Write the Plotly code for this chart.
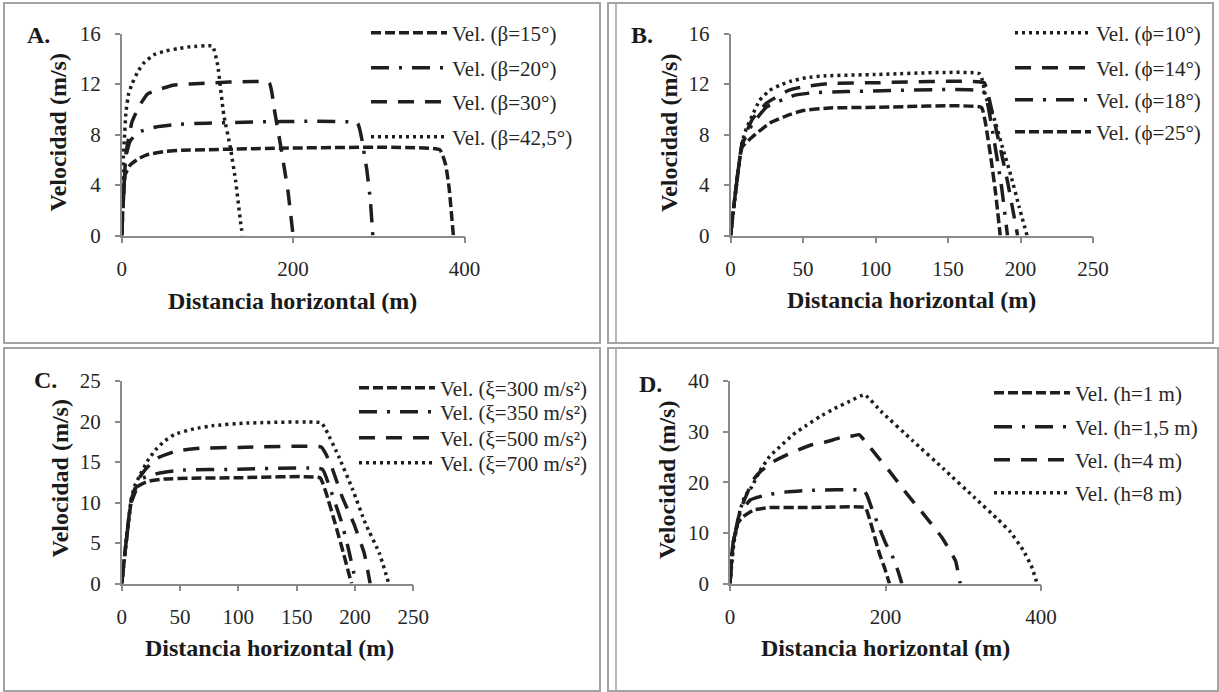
import plotly.graph_objects as go

W, H = 1219, 692

# ---------------- data ----------------
# Panel A : inclination beta
A_names = ["Vel. (β=15°)", "Vel. (β=20°)", "Vel. (β=30°)", "Vel. (β=42,5°)"]
A_x_b15 = [0, 4, 10, 20, 30, 50, 70, 100, 371, 378, 382, 387]
A_v_b15 = [0, 4.8, 5.6, 6.1, 6.4, 6.65, 6.75, 6.8, 6.8, 5.6, 3.8, 0]
A_x_b20 = [0, 5, 10, 20, 40, 65, 100, 275, 280, 286, 290, 293]
A_v_b20 = [0, 6.3, 7.5, 8.2, 8.6, 8.8, 8.9, 8.9, 7.7, 5.2, 2.9, 0]
A_x_b30 = [0, 5, 12, 20, 30, 45, 60, 80, 172, 178, 186, 194, 200]
A_v_b30 = [0, 6.5, 9.0, 10.2, 11.2, 11.6, 11.9, 12.0, 12.1, 10.0, 6.9, 3.5, 0]
A_x_b42 = [0, 2, 3, 5, 8, 12, 19, 25, 37, 50, 65, 80, 106, 112, 119, 127, 133, 139, 141]
A_v_b42 = [0, 6.3, 7.5, 9.8, 11.2, 12.0, 13.0, 13.6, 14.3, 14.6, 14.8, 14.95, 15.0, 13.5, 9.6, 6.9, 4.3, 0.9, 0]

# Panel B : friction angle phi
B_names = ["Vel. (ϕ=10°)", "Vel. (ϕ=14°)", "Vel. (ϕ=18°)", "Vel. (ϕ=25°)"]
B_x_p10 = [0, 8, 11, 15, 20, 27, 34, 41, 52, 66, 100, 172, 176, 182, 188, 193.5, 199, 204.5]
B_v_p10 = [0, 7.4, 8.5, 9.5, 10.7, 11.5, 11.9, 12.2, 12.5, 12.65, 12.75, 12.8, 11.0, 9.2, 6.8, 4.7, 2.3, 0]
B_x_p14 = [0, 8, 15, 25, 40, 51, 70, 100, 175, 178, 184, 191, 198]
B_v_p14 = [0, 7.3, 9.2, 10.5, 11.5, 11.8, 12.05, 12.1, 12.1, 11.0, 8.0, 4.3, 0]
B_x_p18 = [0, 8, 15, 25, 44, 56, 80, 174, 177, 182, 187, 191]
B_v_p18 = [0, 7.2, 8.8, 10.2, 11.1, 11.3, 11.4, 11.45, 10.6, 7.4, 3.8, 0]
B_x_p25 = [0, 8, 15, 27, 39, 50, 68, 100, 173, 176, 180, 183, 186]
B_v_p25 = [0, 7.0, 7.8, 8.9, 9.5, 9.9, 10.1, 10.15, 10.15, 8.8, 5.8, 3.2, 0]

# Panel C : turbulence coefficient xi
C_names = ["Vel. (ξ=300 m/s²)", "Vel. (ξ=350 m/s²)", "Vel. (ξ=500 m/s²)", "Vel. (ξ=700 m/s²)"]
C_x_k300 = [0, 8, 14, 22, 36, 60, 100, 170, 175, 183, 190, 197]
C_v_k300 = [0, 9.9, 12.0, 12.6, 12.9, 13.0, 13.05, 13.05, 11.3, 7.4, 3.8, 0]
C_x_k350 = [0, 8, 15, 31, 50, 100, 172, 178, 188, 194, 201]
C_v_k350 = [0, 9.9, 12.8, 13.6, 14.0, 14.1, 14.1, 12.0, 7.8, 4.5, 0]
C_x_k500 = [0, 8, 14, 21, 31, 48, 68, 100, 171, 175, 181, 189, 199, 208, 213]
C_v_k500 = [0, 10.2, 12.8, 14.2, 15.5, 16.4, 16.7, 16.8, 16.85, 16.0, 14.0, 10.7, 7.4, 3.7, 0]
C_x_k700 = [0, 8, 11, 15, 22, 29, 36, 45, 62, 79, 107, 171, 175, 186, 198, 209, 221, 229]
C_v_k700 = [0, 10.3, 12.0, 13.2, 15.1, 16.5, 17.5, 18.4, 19.1, 19.5, 19.8, 19.85, 19.0, 15.7, 11.6, 7.4, 3.7, 0]

# Panel D : flow depth h
D_names = ["Vel. (h=1 m)", "Vel. (h=1,5 m)", "Vel. (h=4 m)", "Vel. (h=8 m)"]
D_x_h1 = [0, 4, 10, 17, 30, 51, 100, 174, 178, 185, 192, 199, 205]
D_v_h1 = [0, 8, 11.9, 13.2, 14.5, 15.0, 15.0, 15.0, 13.5, 9.8, 6.0, 3.0, 0]
D_x_h15 = [0, 4, 10, 13, 26, 47, 73, 100, 172, 176, 182, 190, 200, 210, 216, 221]
D_v_h15 = [0, 8, 12, 13.9, 16.5, 17.5, 18.1, 18.4, 18.4, 17.5, 15.0, 11.8, 8.0, 5.0, 2.5, 0]
D_x_h4 = [0, 4, 10, 15, 30, 39, 55, 73, 88, 105, 124, 142, 159, 166, 176, 190, 205, 227, 250, 273, 290, 296]
D_v_h4 = [0, 8, 12.5, 15.2, 20.5, 22.1, 24.0, 25.4, 26.4, 27.4, 28.0, 28.8, 29.2, 29.4, 27.7, 25.0, 22.2, 17.8, 13.5, 9.0, 4.5, 0]
D_x_h8 = [0, 5, 10, 13, 19, 28, 39, 51, 64, 81, 99, 116, 135, 154, 173, 195, 235, 275, 315, 345, 360, 377, 388, 395]
D_v_h8 = [0, 8, 12, 14.5, 17.2, 19.1, 22.4, 25.1, 27.0, 29.4, 31.3, 33.0, 34.6, 36.0, 37.3, 33.9, 28.2, 22.6, 16.9, 12.6, 10.3, 6.6, 3.3, 0]

# ---------------- styles ----------------
INK = "#1e1e1e"
GRID = "#8a8a8a"
SERIF = "Liberation Serif"
SHORT = "10px,4px"
DASHDOT = "18px,10px,3px,10px"
LONG = "16px,11px"
DOT = "3px,4px"
LW = 3.5
FS_TICK = 21
FS_LEG = 21
FS_BOLD = 24

def px2x(p):
    return p / W

def py2y(p):
    return 1 - p / H

fig = go.Figure()

# legend placement: (line start x, row centre y for each item)
panels = [
    ("", [(A_x_b15, A_v_b15), (A_x_b20, A_v_b20), (A_x_b30, A_v_b30), (A_x_b42, A_v_b42)],
     A_names, [SHORT, DASHDOT, LONG, DOT], 371, [33, 68, 102, 137]),
    ("2", [(B_x_p10, B_v_p10), (B_x_p14, B_v_p14), (B_x_p18, B_v_p18), (B_x_p25, B_v_p25)],
     B_names, [DOT, LONG, DASHDOT, SHORT], 1015, [33, 68, 100, 132]),
    ("3", [(C_x_k300, C_v_k300), (C_x_k350, C_v_k350), (C_x_k500, C_v_k500), (C_x_k700, C_v_k700)],
     C_names, [SHORT, DASHDOT, LONG, DOT], 359, [388, 412, 438, 463]),
    ("4", [(D_x_h1, D_v_h1), (D_x_h15, D_v_h15), (D_x_h4, D_v_h4), (D_x_h8, D_v_h8)],
     D_names, [SHORT, DASHDOT, LONG, DOT], 994, [393, 427, 460, 493]),
]

legends = {}
k = 0
for pi, (suf, series, names, dashes, lx, rows) in enumerate(panels):
    for si, ((xs, vs), nm, ds) in enumerate(zip(series, names, dashes)):
        k += 1
        lid = "legend" if k == 1 else f"legend{k}"
        fig.add_trace(go.Scatter(
            x=xs, y=vs, mode="lines", name=nm,
            line=dict(color=INK, width=LW, dash=ds, shape="spline", smoothing=0.35),
            xaxis="x" + suf, yaxis="y" + suf, legend=lid, hoverinfo="skip",
        ))
        legends[lid] = dict(
            x=px2x(lx - 5), y=py2y(rows[si]), xanchor="left", yanchor="middle",
            font=dict(family=SERIF, size=FS_LEG, color="#262626"),
            bgcolor="rgba(0,0,0,0)", borderwidth=0, itemwidth=76,
            itemclick=False, itemdoubleclick=False,
        )

# plot-area pixel boxes: (x0, x1, ytop, ybottom)
boxes = {
    "": (121.7, 464.5, 33.5, 235.5),
    "2": (730.5, 1093.0, 33.5, 235.5),
    "3": (121.7, 413.3, 381.0, 583.5),
    "4": (730.0, 1041.0, 381.0, 583.5),
}
xranges = {"": ([0, 400], 200), "2": ([0, 250], 50), "3": ([0, 250], 50), "4": ([0, 400], 200)}
yranges = {"": ([0, 16], 4), "2": ([0, 16], 4), "3": ([0, 25], 5), "4": ([0, 40], 10)}

tickfont = dict(family=SERIF, size=FS_TICK, color="#262626")
layout_axes = {}
for suf, (x0, x1, yt, yb) in boxes.items():
    xr, xd = xranges[suf]
    yr, yd = yranges[suf]
    layout_axes["xaxis" + suf] = dict(
        domain=[px2x(x0), px2x(x1)], range=xr, dtick=xd, tick0=0, automargin=False,
        anchor="y" + suf, showgrid=False, zeroline=False, showline=True,
        linecolor=GRID, linewidth=1.5, ticks="outside", ticklen=6, tickwidth=1.5,
        tickcolor=GRID, tickfont=tickfont, ticklabelstandoff=8, fixedrange=True,
    )
    layout_axes["yaxis" + suf] = dict(
        domain=[py2y(yb), py2y(yt)], range=yr, dtick=yd, tick0=0, automargin=False,
        anchor="x" + suf, showgrid=False, zeroline=False, showline=True,
        linecolor=GRID, linewidth=1.5, ticks="outside", ticklen=5, tickwidth=1.5,
        tickcolor=GRID, tickfont=tickfont, ticklabelstandoff=10, fixedrange=True,
    )

fig.update_layout(
    width=W, height=H, margin=dict(l=0, r=0, t=0, b=0, pad=0, autoexpand=False),
    paper_bgcolor="white", plot_bgcolor="white", showlegend=True,
    **legends, **layout_axes,
)

annots = []
bold = dict(family=SERIF, size=FS_BOLD, color="#1a1a1a")
# panel letters
for txt, cx, cy in [("A.", 38.5, 35), ("B.", 642, 35), ("C.", 45, 380), ("D.", 650, 384)]:
    annots.append(dict(text=f"<b>{txt}</b>", x=px2x(cx), y=py2y(cy), xref="paper", yref="paper",
                       showarrow=False, font=bold, xanchor="center", yanchor="middle"))
# y titles
for cx, cy in [(57.5, 133), (669, 133), (59.5, 479), (667, 480)]:
    annots.append(dict(text="<b>Velocidad (m/s)</b>", x=px2x(cx), y=py2y(cy), xref="paper", yref="paper",
                       showarrow=False, font=bold, textangle=-90, xanchor="center", yanchor="middle"))
# x titles
for cx, cy in [(292, 301), (911, 300), (269, 648), (885, 648)]:
    annots.append(dict(text="<b>Distancia horizontal (m)</b>", x=px2x(cx), y=py2y(cy), xref="paper", yref="paper",
                       showarrow=False, font=bold, xanchor="center", yanchor="middle"))

shapes = []
BORDER = "#a3a3a3"
for (x0, y0, x1, y1) in [(4, 3, 600, 343), (608, 3, 1213, 343), (4, 348, 600, 691), (608, 348, 1218, 691)]:
    shapes.append(dict(type="rect", xref="paper", yref="paper",
                       x0=px2x(x0), x1=px2x(x1), y0=py2y(y1), y1=py2y(y0),
                       line=dict(color=BORDER, width=2), fillcolor="rgba(0,0,0,0)", layer="below"))
for (y0, y1) in [(3, 343), (348, 691)]:
    shapes.append(dict(type="line", xref="paper", yref="paper",
                       x0=px2x(616), x1=px2x(616), y0=py2y(y1), y1=py2y(y0),
                       line=dict(color=BORDER, width=1.5), layer="below"))

fig.update_layout(annotations=annots, shapes=shapes)
fig.write_html(
    "out.html",
    config={"displayModeBar": False},
    post_script="document.body.style.margin='0';document.body.style.overflow='hidden';",
)
